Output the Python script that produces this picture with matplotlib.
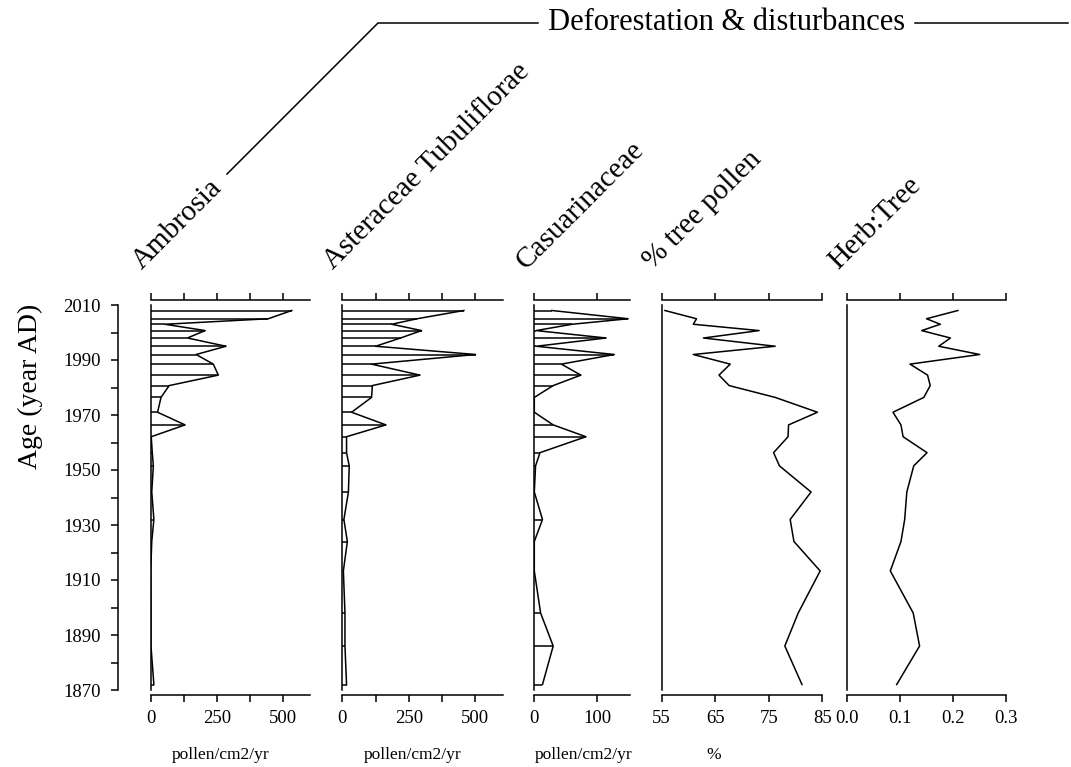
import matplotlib.pyplot as plt
from matplotlib.lines import Line2D

plt.rcParams['font.family'] = ['Liberation Serif', 'DejaVu Serif']

# sample ages (year AD), top to bottom
years = [2008, 2005, 2003, 2000.7, 1998, 1995, 1992, 1988.5, 1984.5, 1980.7,
         1976.4, 1971, 1966.4, 1962.1, 1956.3, 1951.5, 1942, 1932, 1924,
         1913.3, 1898, 1886, 1872]

# influx values (pollen/cm2/yr)
ambrosia = [534, 445, 54, 206, 139, 285, 172, 237, 256, 70,
            39, 26, 130, 2, 6, 10, 4, 12, 4,
            0, 1, 1, 12]
asteraceae = [457, 281, 186, 298, 219, 125, 501, 110, 292, 113,
              110, 35, 164, 16, 16, 26, 23, 6, 19,
              4, 10, 10, 16]
casuarina = [28, 149, 60, 3, 114, 3, 127, 43, 74, 30,
             0, 0, 30, 82, 9, 2, 0, 13, 0,
             0, 10, 30, 13]

# percentages and ratio
tree_pct = [55.6, 61.5, 60.9, 73.2, 62.8, 76.2, 60.9, 67.8, 65.7, 67.6,
            76.2, 84.1, 78.7, 78.6, 75.9, 77.0, 82.9, 79.0, 79.7,
            84.6, 80.5, 78.0, 81.2]
herb_tree = [0.209, 0.150, 0.176, 0.141, 0.195, 0.173, 0.250, 0.119, 0.152, 0.157,
             0.145, 0.087, 0.102, 0.106, 0.151, 0.126, 0.113, 0.109, 0.102,
             0.082, 0.125, 0.137, 0.094]

names = ['Ambrosia', 'Asteraceae Tubuliflorae', 'Casuarinaceae', '% tree pollen', 'Herb:Tree']
series = [ambrosia, asteraceae, casuarina, tree_pct, herb_tree]
units = ['pollen/cm2/yr', 'pollen/cm2/yr', 'pollen/cm2/yr', '%', '']
xticks = [[0, 125, 250, 375, 500], [0, 125, 250, 375, 500], [0, 100],
          [55, 65, 75, 85], [0.0, 0.1, 0.2, 0.3]]
xticklabels = [['0', '', '250', '', '500'], ['0', '', '250', '', '500'], ['0', '100'],
               ['55', '65', '75', '85'], ['0.0', '0.1', '0.2', '0.3']]
group_title = 'Deforestation & disturbances'

# layout (pixels)
W, H = 1071, 767
panel_px = [(150.7, 310.0), (342.3, 502.7), (534.3, 630.0), (661.7, 822.3), (846.7, 1006.3)]
xlims = [(0, 603), (0, 603), (0, 152), (55, 85), (0, 0.3)]
bars = [True, True, True, False, False]
unit_x = [221, 413, 584, 714, 0]
top_px, bot_px = 300, 695
ylim = (1870 - 5 / 2.75, 2010 + 5 / 2.75)


def fx(px):
    return px / W


def fy(py):
    return 1 - py / H


fig = plt.figure(figsize=(W / 100, H / 100), dpi=100)

for i, (l, r) in enumerate(panel_px):
    ax = fig.add_axes([fx(l), fy(bot_px), (r - l) / W, (bot_px - top_px) / H])
    ax.patch.set_visible(False)
    vals = series[i]
    if bars[i]:
        ax.hlines(years, 0, vals, color='black', lw=1.1)
    ax.plot(vals, years, color='black', lw=1.1)
    ax.set_xlim(*xlims[i])
    ax.set_ylim(*ylim)
    ax.spines['right'].set_visible(False)
    ax.spines['left'].set_bounds(1870, 2010)
    for s in ax.spines.values():
        s.set_linewidth(1.1)
    ax.set_yticks([])
    ax.set_xticks(xticks[i])
    ax.set_xticklabels(xticklabels[i])
    ax.tick_params(axis='x', direction='out', length=5, width=1.1, top=True,
                   bottom=True, labeltop=False, labelbottom=True,
                   labelsize=13.5, pad=6)
    fig.text(fx(l - 9), fy(270), names[i], rotation=45, rotation_mode='anchor',
             ha='left', va='baseline', fontsize=21)
    if units[i]:
        fig.text(fx(unit_x[i]), fy(755), units[i], ha='center', va='center', fontsize=12.5)

# age axis
ay = fig.add_axes([fx(118), fy(bot_px), 0.001, (bot_px - top_px) / H])
ay.patch.set_visible(False)
ay.set_ylim(*ylim)
for s in ['top', 'right', 'bottom']:
    ay.spines[s].set_visible(False)
ay.spines['left'].set_bounds(1870, 2010)
ay.spines['left'].set_linewidth(1.1)
ay.set_xticks([])
ay.set_yticks(range(1870, 2011, 20))
ay.set_yticks(range(1880, 2010, 20), minor=True)
ay.tick_params(axis='y', which='both', direction='out', length=5, width=1.1,
               labelsize=13.5, pad=7.5)
fig.text(fx(30), fy(386), 'Age (year AD)', rotation=90, ha='center', va='center', fontsize=20)

# group bracket
fig.add_artist(Line2D([fx(227), fx(378), fx(538)], [fy(174), fy(23), fy(23)],
                      color='black', lw=1.1))
fig.text(fx(548), fy(23), group_title, ha='left', va='center', fontsize=22)
fig.add_artist(Line2D([fx(915), fx(1068)], [fy(23), fy(23)], color='black', lw=1.1))

fig.savefig('out.png', dpi=100)
